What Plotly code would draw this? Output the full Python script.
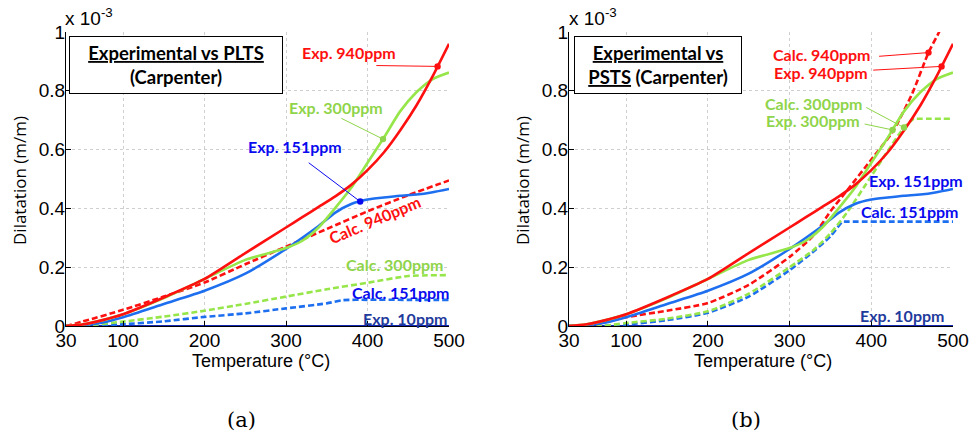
import numpy as np
import plotly.graph_objects as go

# ---------------- data (values in units of 1e-3 m/m) ----------------
T_exp = [30, 50, 75, 100, 150, 200, 250, 300, 320, 340, 360, 380, 400, 420, 440, 460, 480, 500]
exp940 = [0, 0.005, 0.02, 0.04, 0.097, 0.16, 0.248, 0.335, 0.37, 0.405, 0.44, 0.48, 0.53, 0.59, 0.665, 0.75, 0.85, 0.96]
exp300 = [0, 0.005, 0.02, 0.04, 0.095, 0.16, 0.225, 0.265, 0.29, 0.335, 0.4, 0.47, 0.555, 0.64, 0.73, 0.795, 0.84, 0.862]
exp151 = [0, 0.003, 0.012, 0.03, 0.075, 0.12, 0.178, 0.262, 0.3, 0.34, 0.385, 0.415, 0.43, 0.437, 0.443, 0.447, 0.455, 0.466]
exp10 = [0] * len(T_exp)

# (a) PLTS calculations
T_c940a = [30, 50, 100, 150, 200, 250, 300, 350, 400, 450, 500]
calc940a = [0, 0.015, 0.055, 0.1, 0.148, 0.21, 0.27, 0.33, 0.39, 0.445, 0.495]
T_c300a = [30, 60, 100, 150, 200, 250, 300, 350, 400, 450, 500]
calc300a = [0, 0.003, 0.015, 0.032, 0.052, 0.075, 0.1, 0.125, 0.147, 0.17, 0.173]
T_c151a = [30, 60, 100, 150, 200, 250, 300, 350, 370, 400, 450, 500]
calc151a = [0, 0.001, 0.006, 0.016, 0.031, 0.043, 0.06, 0.077, 0.088, 0.089, 0.089, 0.089]

# (b) PSTS calculations
T_c940b = [30, 60, 100, 150, 200, 250, 300, 330, 350, 370, 400, 426, 450, 470, 483, 490]
calc940b = [0, 0.005, 0.03, 0.052, 0.078, 0.14, 0.235, 0.31, 0.39, 0.46, 0.566, 0.66, 0.79, 0.93, 1.0, 1.05]
T_c300b = [30, 70, 100, 150, 200, 250, 300, 330, 350, 370, 400, 420, 440, 452, 455, 500]
calc300b = [0, 0, 0.01, 0.025, 0.05, 0.11, 0.2, 0.26, 0.315, 0.385, 0.51, 0.595, 0.675, 0.705, 0.705, 0.705]
T_c151b = [30, 70, 100, 150, 200, 250, 300, 330, 350, 365, 368, 500]
calc151b = [0, 0, 0.005, 0.02, 0.045, 0.1, 0.19, 0.255, 0.305, 0.355, 0.355, 0.355]

x_ticks = [30, 100, 200, 300, 400, 500]
y_ticks = [0, 0.2, 0.4, 0.6, 0.8, 1]
y_ticklabels = ["0", "0.2", "0.4", "0.6", "0.8", "1"]

# ---------------- styles ----------------
RED = "#ff1010"
GREEN = "#96e64a"
BLUE = "#1e6ff0"
NAVY = "#1428b4"
LBL_BLUE = "#0a0aee"
LBL_NAVY = "#1f3b9c"
LBL_GREEN = "#8fd44a"
DASH = "6px,3px"
W = 2.6
W_px, H_px = 973, 444

fig = go.Figure()

def add(x, y, color, dash, xa, ya, width=W):
    fig.add_trace(go.Scatter(x=x, y=y, mode="lines", xaxis=xa, yaxis=ya,
                             line=dict(color=color, width=width, dash=dash,
                                       shape="spline", smoothing=0.6),
                             showlegend=False, hoverinfo="skip"))

for xa, ya, c940, c300, c151 in [
    ("x", "y", (T_c940a, calc940a), (T_c300a, calc300a), (T_c151a, calc151a)),
    ("x2", "y2", (T_c940b, calc940b), (T_c300b, calc300b), (T_c151b, calc151b)),
]:
    add(T_exp, exp10, NAVY, "solid", xa, ya, width=2)
    add(c151[0], c151[1], BLUE, DASH, xa, ya)
    add(c300[0], c300[1], GREEN, DASH, xa, ya)
    add(c940[0], c940[1], RED, DASH, xa, ya)
    add(T_exp, exp151, BLUE, "solid", xa, ya)
    add(T_exp, exp300, GREEN, "solid", xa, ya)
    add(T_exp, exp940, RED, "solid", xa, ya)

def px_x(px):
    return px / W_px

def px_y(py):
    return 1 - py / H_px

axis_common = dict(
    range=[30, 500], tickvals=x_ticks, showline=True, linecolor="black", linewidth=1,
    mirror=False, ticks="inside", ticklen=5, tickcolor="black", automargin=False,
    showgrid=True, gridcolor="#cfcfcf", griddash="dot", gridwidth=1, zeroline=False,
    ticklabelstandoff=-3, ticklabeloverflow="allow",
    tickfont=dict(family="Liberation Sans, Arial", size=19, color="black"),
)
yaxis_common = dict(
    range=[0, 1], tickvals=y_ticks, ticktext=y_ticklabels, showline=True, linecolor="black",
    linewidth=1, mirror=False, ticks="inside", ticklen=5, tickcolor="black", automargin=False,
    showgrid=True, gridcolor="#cfcfcf", griddash="dot", gridwidth=1, zeroline=False,
    ticklabelstandoff=-4, ticklabeloverflow="allow",
    tickfont=dict(family="Liberation Sans, Arial", size=19, color="black"),
)

y_dom = [px_y(326), px_y(32)]
fig.update_layout(
    template="none",
    width=W_px, height=H_px,
    margin=dict(l=0, r=0, t=0, b=0, pad=0, autoexpand=False),
    paper_bgcolor="white", plot_bgcolor="white",
    xaxis=dict(domain=[px_x(66), px_x(449)], anchor="y", **axis_common),
    yaxis=dict(domain=y_dom, anchor="x", **yaxis_common),
    xaxis2=dict(domain=[px_x(569), px_x(953)], anchor="y2", **axis_common),
    yaxis2=dict(domain=y_dom, anchor="x2", **yaxis_common),
)

LBL_FONT = "Lato, Open Sans, sans-serif"
ann = []

def label(text, x, y, color, xr, yr, angle=0):
    ann.append(dict(text="<b>%s</b>" % text, x=x, y=y, xref=xr, yref=yr, showarrow=False,
                    font=dict(family=LBL_FONT, size=16, color=color), textangle=angle,
                    xanchor="center", yanchor="middle"))

def pointer(T, curveT, curveV, ax, ay, color, xr, yr):
    yv = float(np.interp(T, curveT, curveV))
    ann.append(dict(text="", x=T, y=yv, ax=ax, ay=ay, xref=xr, yref=yr, axref=xr, ayref=yr,
                    showarrow=True, arrowhead=6, arrowsize=1.6, arrowwidth=1,
                    arrowcolor=color, standoff=0, startstandoff=0))

# ---- panel (a) ----
label("Exp. 940ppm", 377, 0.93, RED, "x", "y")
pointer(486, T_exp, exp940, 409, 0.886, RED, "x", "y")
label("Exp. 300ppm", 361, 0.743, LBL_GREEN, "x", "y")
pointer(419, T_exp, exp300, 366, 0.709, LBL_GREEN, "x", "y")
label("Exp. 151ppm", 311, 0.61, LBL_BLUE, "x", "y")
pointer(391, T_exp, exp151, 326, 0.559, LBL_BLUE, "x", "y")
label("Calc. 940ppm", 409, 0.361, RED, "x", "y", angle=-23)
label("Calc. 300ppm", 434, 0.21, LBL_GREEN, "x", "y")
label("Calc. 151ppm", 441, 0.115, LBL_BLUE, "x", "y")
label("Exp. 10ppm", 446, 0.025, LBL_NAVY, "x", "y")

# ---- panel (b) ----
label("Calc. 940ppm", 340, 0.923, RED, "x2", "y2")
pointer(470, T_c940b, calc940b, 407.7, 0.917, RED, "x2", "y2")
label("Exp. 940ppm", 339, 0.862, RED, "x2", "y2")
pointer(486, T_exp, exp940, 400.5, 0.87, RED, "x2", "y2")
label("Calc. 300ppm", 330, 0.756, LBL_GREEN, "x2", "y2")
pointer(440, T_c300b, calc300b, 392, 0.746, LBL_GREEN, "x2", "y2")
label("Exp. 300ppm", 329, 0.698, LBL_GREEN, "x2", "y2")
pointer(426, T_exp, exp300, 390, 0.688, LBL_GREEN, "x2", "y2")
label("Exp. 151ppm", 455, 0.494, LBL_BLUE, "x2", "y2")
label("Calc. 151ppm", 447, 0.388, LBL_BLUE, "x2", "y2")
label("Exp. 10ppm", 437, 0.037, LBL_NAVY, "x2", "y2")

# ---- title boxes ----
for txt, cx, cy, w in [
    ("<b><u>Experimental vs PLTS</u></b><br><b>(Carpenter)</b>", 176, 65, 206),
    ("<b><u>Experimental vs</u></b><br><b><u>PSTS</u> (Carpenter)</b>", 658, 64.5, 160),
]:
    ann.append(dict(text=txt, x=px_x(cx), y=px_y(cy), xref="paper", yref="paper",
                    showarrow=False, xanchor="center", yanchor="middle",
                    font=dict(family=LBL_FONT, size=18.5, color="black"),
                    bordercolor="black", borderwidth=1, borderpad=3, bgcolor="white",
                    width=w, height=50, align="center"))

# ---- exponent labels, axis titles, panel letters ----
for x0 in (63, 567):
    ann.append(dict(text="x 10<sup>-3</sup>", x=px_x(x0), y=px_y(31), xref="paper", yref="paper",
                    showarrow=False, xanchor="left", yanchor="bottom",
                    font=dict(family="Liberation Sans, Arial", size=19, color="black")))
for cx in (261, 763):
    ann.append(dict(text="Temperature (°C)", x=px_x(cx), y=px_y(361), xref="paper", yref="paper",
                    showarrow=False, xanchor="center", yanchor="middle",
                    font=dict(family="Liberation Sans, Arial", size=18, color="black")))
for cx in (20, 523):
    ann.append(dict(text="Dilatation (m/m)", x=px_x(cx), y=px_y(181), xref="paper", yref="paper",
                    showarrow=False, xanchor="center", yanchor="middle", textangle=-90,
                    font=dict(family="Open Sans, sans-serif", size=17, color="black")))
for txt, cx in (("(a)", 241), ("(b)", 746)):
    ann.append(dict(text=txt, x=px_x(cx), y=px_y(420), xref="paper", yref="paper",
                    showarrow=False, xanchor="center", yanchor="middle",
                    font=dict(family="DejaVu Serif, Liberation Serif, serif", size=21, color="black")))

fig.update_layout(annotations=ann)
fig.write_html("out.html", config={"displayModeBar": False},
               post_script="document.body.style.margin='0';document.body.style.overflow='hidden';")
